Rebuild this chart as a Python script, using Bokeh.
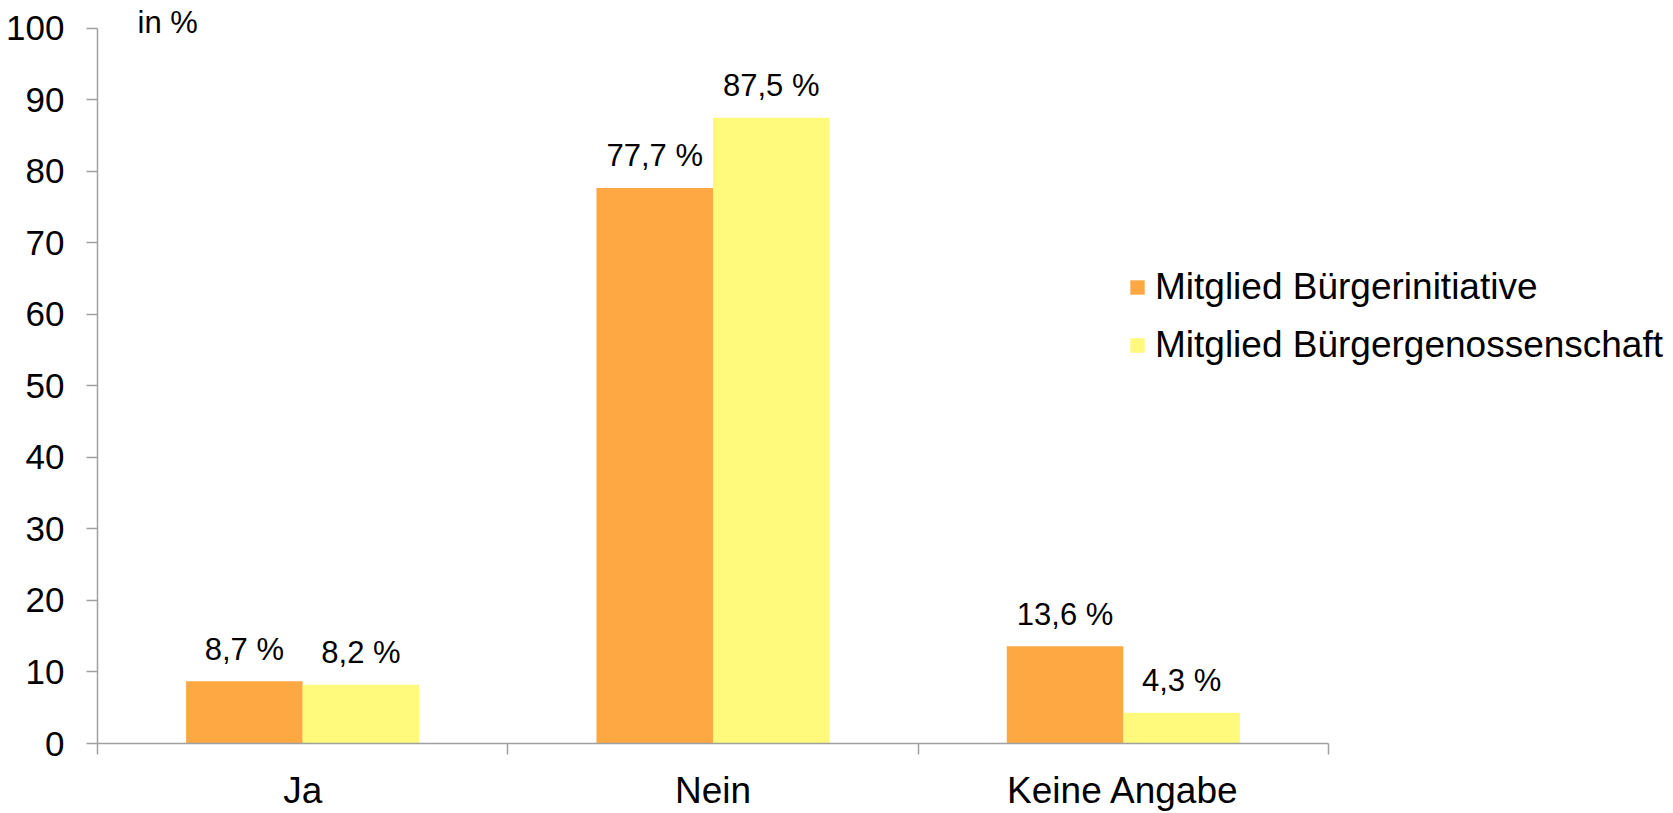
import numpy as np
from bokeh.plotting import figure
from bokeh.models import (Range1d, FixedTicker, ColumnDataSource, Legend, LegendItem, Label)
from bokeh.transform import dodge
from bokeh.core.properties import value
from bokeh.embed import file_html
from bokeh.resources import INLINE

categories = ["Ja", "Nein", "Keine Angabe"]
series_names = ["Mitglied Bürgerinitiative", "Mitglied Bürgergenossenschaft"]
initiative = [8.7, 77.7, 13.6]
genossenschaft = [8.2, 87.5, 4.3]
y_ticks = [0, 10, 20, 30, 40, 50, 60, 70, 80, 90, 100]
unit_label = "in %"

FONT = "Liberation Sans"
ORANGE = "#FEA843"
YELLOW = "#FFFA7B"
AXIS_GREY = "#A0A0A0"

# layout (pixels)
W, H = 1673, 813
LEFT, BOTTOM = 97, 69
AX_TOP_PX = 28          # pixel row of y = 100
AX_RIGHT_PX = 1328      # pixel column of the end of the category axis
frame_w = W - LEFT
frame_h = H - BOTTOM
n = len(categories)
y_max = max(y_ticks)
x_end = n * frame_w / (AX_RIGHT_PX - LEFT)
y_end = y_max * frame_h / (frame_h - AX_TOP_PX)

p = figure(width=W, height=H, output_backend="svg", toolbar_location=None,
           x_range=Range1d(0, x_end), y_range=Range1d(0, y_end),
           min_border_left=LEFT, min_border_right=0, min_border_top=0, min_border_bottom=BOTTOM)
p.outline_line_color = None
p.xgrid.visible = False
p.ygrid.visible = False
p.background_fill_color = "white"
p.border_fill_color = "white"

def fmt(v):
    return (f"{v:.1f} %").replace(".", ",")

xc = np.arange(n) + 0.5
src = ColumnDataSource(dict(
    x=xc, a=initiative, b=genossenschaft,
    la=[fmt(v) for v in initiative], lb=[fmt(v) for v in genossenschaft],
))

bw = 0.284
ra = p.vbar(x=dodge("x", -bw / 2, range=p.x_range), top="a", width=bw, bottom=0,
            source=src, fill_color=ORANGE, line_color=None)
rb = p.vbar(x=dodge("x", bw / 2, range=p.x_range), top="b", width=bw, bottom=0,
            source=src, fill_color=YELLOW, line_color=None)

for col, lab, off in (("a", "la", -bw / 2), ("b", "lb", bw / 2)):
    p.text(x=dodge("x", off, range=p.x_range), y=col, text=lab, source=src,
           text_align="center", text_baseline="alphabetic", y_offset=-32,
           text_font=value(FONT), text_font_size="31px", text_color="black")

# y axis
ya = p.yaxis[0]
ya.ticker = FixedTicker(ticks=y_ticks, minor_ticks=[])
ya.bounds = (0, y_max)
ya.axis_line_color = AXIS_GREY
ya.axis_line_width = 1.5
ya.major_tick_line_color = AXIS_GREY
ya.major_tick_line_width = 1.5
ya.major_tick_out = 11
ya.major_tick_in = 0
ya.minor_tick_line_color = None
ya.major_label_text_font = FONT
ya.major_label_text_font_size = "35px"
ya.major_label_text_color = "black"
ya.major_label_standoff = 22

# x axis
xa = p.xaxis[0]
xa.ticker = FixedTicker(ticks=list(xc), minor_ticks=list(range(n + 1)))
xa.bounds = (0, n)
xa.major_label_overrides = {float(x): c for x, c in zip(xc, categories)}
xa.axis_line_color = AXIS_GREY
xa.axis_line_width = 1.5
xa.major_tick_line_color = None
xa.minor_tick_line_color = AXIS_GREY
xa.minor_tick_line_width = 1.5
xa.minor_tick_out = 11
xa.minor_tick_in = 0
xa.major_label_text_font = FONT
xa.major_label_text_font_size = "37px"
xa.major_label_text_color = "black"
xa.major_label_standoff = 15

# unit label
p.add_layout(Label(x=0.0975, y=y_max, text=unit_label, text_font=FONT, text_font_size="31px",
                   text_baseline="alphabetic", text_color="black", y_offset=6))

legend = Legend(items=[LegendItem(label=series_names[0], renderers=[ra]),
                       LegendItem(label=series_names[1], renderers=[rb])],
                location=(1031, 377), orientation="vertical",
                label_text_font=FONT, label_text_font_size="37px", label_text_color="black",
                glyph_width=18, glyph_height=18, label_standoff=9, spacing=16,
                padding=0, margin=0, border_line_color=None, background_fill_alpha=0)
p.add_layout(legend, "center")

open("out.html", "w").write(file_html(p, INLINE))
